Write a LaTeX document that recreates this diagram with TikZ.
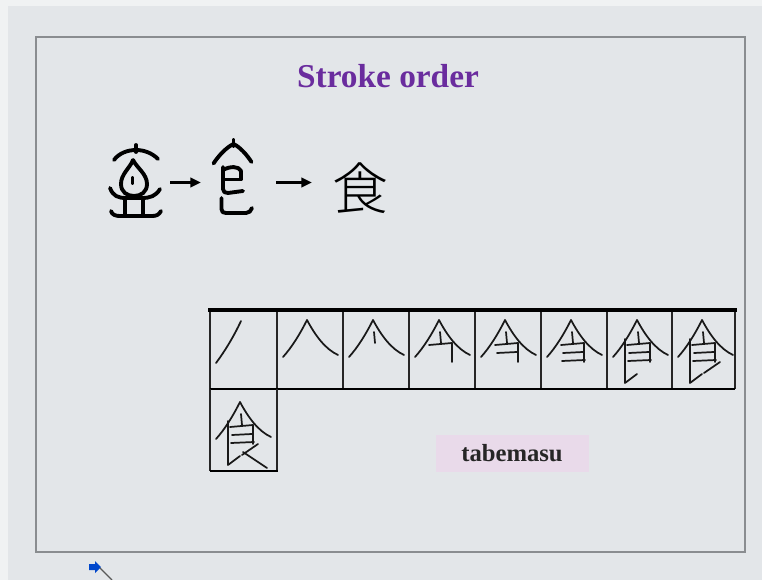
\documentclass[tikz,border=0pt]{standalone}
\usepackage{fontspec}
\setmainfont{Liberation Serif}
\newfontfamily\cjk{Noto Sans CJK JP Light}
\usetikzlibrary{arrows.meta}
\definecolor{bg}{HTML}{E3E6E9}
\definecolor{bgedge}{HTML}{F0F2F3}
\definecolor{framec}{HTML}{8A8D90}
\definecolor{titlec}{HTML}{6A2C9E}
\definecolor{boxc}{HTML}{E9DAEA}
\newcommand{\kstrokes}[1]{%
 \ifnum#1=1 \draw[brush] (31,11) .. controls (24,26) and (15,41) .. (6,53);\else
 \draw[brush] (30,10) .. controls (23,24) and (15,37) .. (6,47);\fi
 \ifnum#1>1 \draw[brush] (30,10) .. controls (38,25) and (48,39) .. (61,45);\fi
 \ifnum#1>2 \draw[brush] (31,22) -- (32,33);\fi
 \ifnum#1>3 \draw[brush] (20,35) -- (43,33) -- (43,52);\fi
 \ifnum#1>4 \draw[brush] (22,43) -- (42,42);\fi
 \ifnum#1>5 \draw[brush] (21,51) -- (44,50);\fi
 \ifnum#1>6 \draw[brush] (18,29) -- (18,73) -- (30,64);\fi
 \ifnum#1>7 \draw[brush] (48,52) -- (32,63);\fi
 \ifnum#1>8 \draw[brush] (33,60) -- (57,76);\fi
}
\begin{document}
\begin{tikzpicture}[x=0.75pt,y=-0.75pt,
  brush/.style={line width=1.3pt,line cap=round,line join=round,black!90},
  glyph/.style={line width=2.9pt,line cap=round,line join=round,black},
  gridline/.style={line width=0.9pt,black!85},
  arr/.style={line width=2.4pt,-{Triangle[length=8pt,width=7pt]}}]
\useasboundingbox (0,0) rectangle (762,580);
\fill[bgedge] (0,0) rectangle (762,580);
\fill[bg] (8,6) rectangle (762,580);
% frame
\draw[framec,line width=1.5pt] (36,37) rectangle (745,552);
% title
\node[text=titlec,font=\fontsize{25}{25}\selectfont\bfseries,anchor=base] (title) at (388,88) {Stroke order};
% ancient glyph 1
\begin{scope}
 \draw[glyph] (136,145) -- (136,152);
 \draw[glyph] (114,160) .. controls (119,153) and (128,150) .. (136,150) .. controls (144,150) and (152,153) .. (158,159);
 \draw[glyph] (133,160) .. controls (130,168) and (121,174) .. (121,184) .. controls (121,192) and (127,196) .. (134,196) .. controls (141,196) and (147,192) .. (147,184) .. controls (147,174) and (137,168) .. (133,160);
 \draw[glyph] (132.5,178) -- (132.5,183);
 \draw[glyph] (110,188) .. controls (113,196) and (118,198) .. (126,198) -- (142,198) .. controls (150,198) and (156,196) .. (160,189);
 \draw[glyph] (125,199) -- (125,214);
 \draw[glyph] (143,199) -- (143,214);
 \draw[glyph] (111,211) .. controls (112,215) and (116,216) .. (120,216) -- (152,216) .. controls (156,216) and (159,215) .. (161,211);
\end{scope}
\coordinate (a1s) at (170,182.5);
\coordinate (a1e) at (201,182.5);
\draw[arr] (a1s) -- (a1e);
% ancient glyph 2
\begin{scope}
 \draw[glyph] (233.5,140) -- (233.5,146);
 \draw[glyph] (213.5,163.5) .. controls (219,155) and (227,147) .. (233.5,144) .. controls (240,147) and (247,155) .. (251.5,162);
 \draw[glyph] (223,167) -- (223,189) .. controls (223,192) and (225,193) .. (228,193) -- (243,191);
 \draw[glyph] (223,170) .. controls (230,166) and (239,166) .. (241,171) -- (241,179);
 \draw[glyph] (224,179.5) -- (241,179.5);
 \draw[glyph] (221.5,198) -- (221.5,209) .. controls (221.5,212) and (223,213) .. (226,213) -- (246,213) .. controls (249,213) and (251,211) .. (252,208);
\end{scope}
\coordinate (a2s) at (276,182.5);
\coordinate (a2e) at (312,182.5);
\draw[arr] (a2s) -- (a2e);
% modern character
\node[font=\cjk\fontsize{42}{42}\selectfont,inner sep=0pt] (shoku) at (360,188) {食};
% grid
\foreach \xa/\n in {210/1,277/2,343/3,409/4,475/5,541/6,607/7,672/8}{
  \begin{scope}[shift={(\xa,310)}]
    \kstrokes{\n}
  \end{scope}
}
\begin{scope}[shift={(210,392)}]
  \kstrokes{9}
\end{scope}
\foreach \xv in {210,277,343,409,475,541,607,672,735}{
  \draw[gridline] (\xv,310) -- (\xv,389);
}
\draw[line width=2.6pt,black] (208,310) -- (737,310);
\draw[line width=1.4pt,black] (210,389) -- (735,389);
\draw[gridline] (210,389) -- (210,471);
\draw[gridline] (277,389) -- (277,471);
\draw[line width=1.4pt,black] (210,471) -- (278,471);
% tabemasu box
\node[fill=boxc,minimum width=153*0.75pt,minimum height=37*0.75pt,inner sep=0pt,
      font=\fontsize{18.5}{18.5}\selectfont\bfseries,text=black!85] (tab) at (512,453.5) {tabemasu};
% cursor
\fill[blue!65!cyan!80!black] (89,564) -- (95,564) -- (95,561) -- (101,567) -- (95,573) -- (95,570) -- (89,570) -- cycle;
\draw[gray!70!black,line width=0.8pt] (100,568) -- (112,580);
\end{tikzpicture}
\end{document}
